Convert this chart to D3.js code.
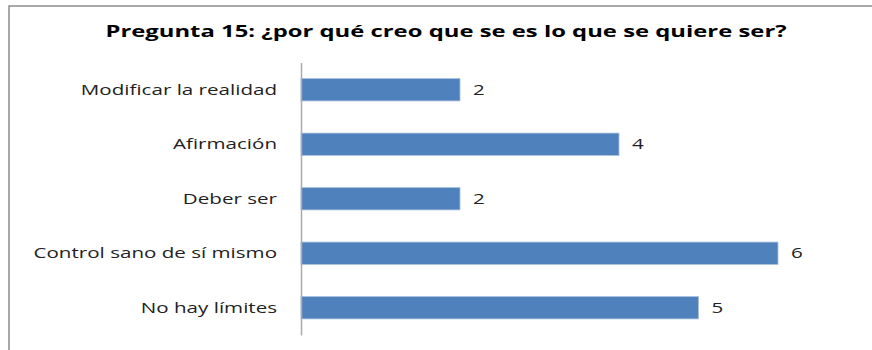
<!DOCTYPE html>
<html>
<head>
<meta charset="utf-8">
<script src="https://cdn.jsdelivr.net/npm/d3@7"></script>
<style>
  body { margin: 0; background: #fff; }
  text { font-family: "Open Sans", sans-serif; fill: #222; }
</style>
</head>
<body>
<div id="root"></div>
<script>
var categories = ['Modificar la realidad', 'Afirmación', 'Deber ser', 'Control sano de sí mismo', 'No hay límites'];
var values = [2, 4, 2, 6, 5];
var title = 'Pregunta 15: ¿por qué creo que se es lo que se quiere ser?';

var width = 872, height = 350;
var sx = 1.47; // the original text is stretched horizontally
var data = categories.map((c, i) => ({ name: c, value: values[i] }));

var svg = d3.select('#root')
  .append('svg')
    .attr('width', width)
    .attr('height', height);

// chart area border (only left and top visible in frame)
svg.append('rect')
  .attr('x', 9)
  .attr('y', 6)
  .attr('width', 900)
  .attr('height', 400)
  .attr('fill', '#fff')
  .attr('stroke', '#8c8c8c')
  .attr('stroke-width', 1.5);

svg.append('text')
  .attr('transform', 'translate(446,37) scale(1.49,1)')
  .attr('text-anchor', 'middle')
  .style('font-weight', 'bold')
  .style('font-size', '16px')
  .style('fill', '#000')
  .text(title);

var x = d3.scaleLinear()
  .domain([0, 7])
  .range([301, 301 + 7 * 79.5]);

var y = d3.scaleBand()
  .domain(categories)
  .range([62.5, 335])
  .paddingInner(0.59)
  .paddingOuter(0.295);

svg.selectAll('rect.bar')
  .data(data)
  .enter()
  .append('rect')
    .attr('class', 'bar')
    .attr('x', x(0))
    .attr('y', d => y(d.name))
    .attr('width', d => x(d.value) - x(0))
    .attr('height', y.bandwidth())
    .attr('fill', '#4f81bd')
    .attr('stroke', '#a7c0de')
    .attr('stroke-width', 0.8);

svg.selectAll('text.val')
  .data(data)
  .enter()
  .append('text')
    .attr('class', 'val')
    .attr('transform', d => 'translate(' + (x(d.value) + 13) + ',' + (y(d.name) + y.bandwidth() / 2) + ') scale(' + sx + ',1)')
    .attr('dy', '0.35em')
    .style('font-size', '14px')
    .text(d => d.value);

// category axis
var axis = svg.append('g')
  .attr('transform', 'translate(' + x(0) + ',0)')
  .call(d3.axisLeft(y).tickSize(0));

axis.select('.domain')
  .attr('stroke', '#aaaaaa')
  .attr('stroke-width', 1.5);

axis.selectAll('.tick text')
  .attr('x', -24 / sx)
  .attr('transform', 'scale(' + sx + ',1)')
  .attr('dy', '0.35em')
  .style('font-family', '"Open Sans", sans-serif')
  .style('font-size', '14px')
  .style('fill', '#222');
</script>
</body>
</html>
